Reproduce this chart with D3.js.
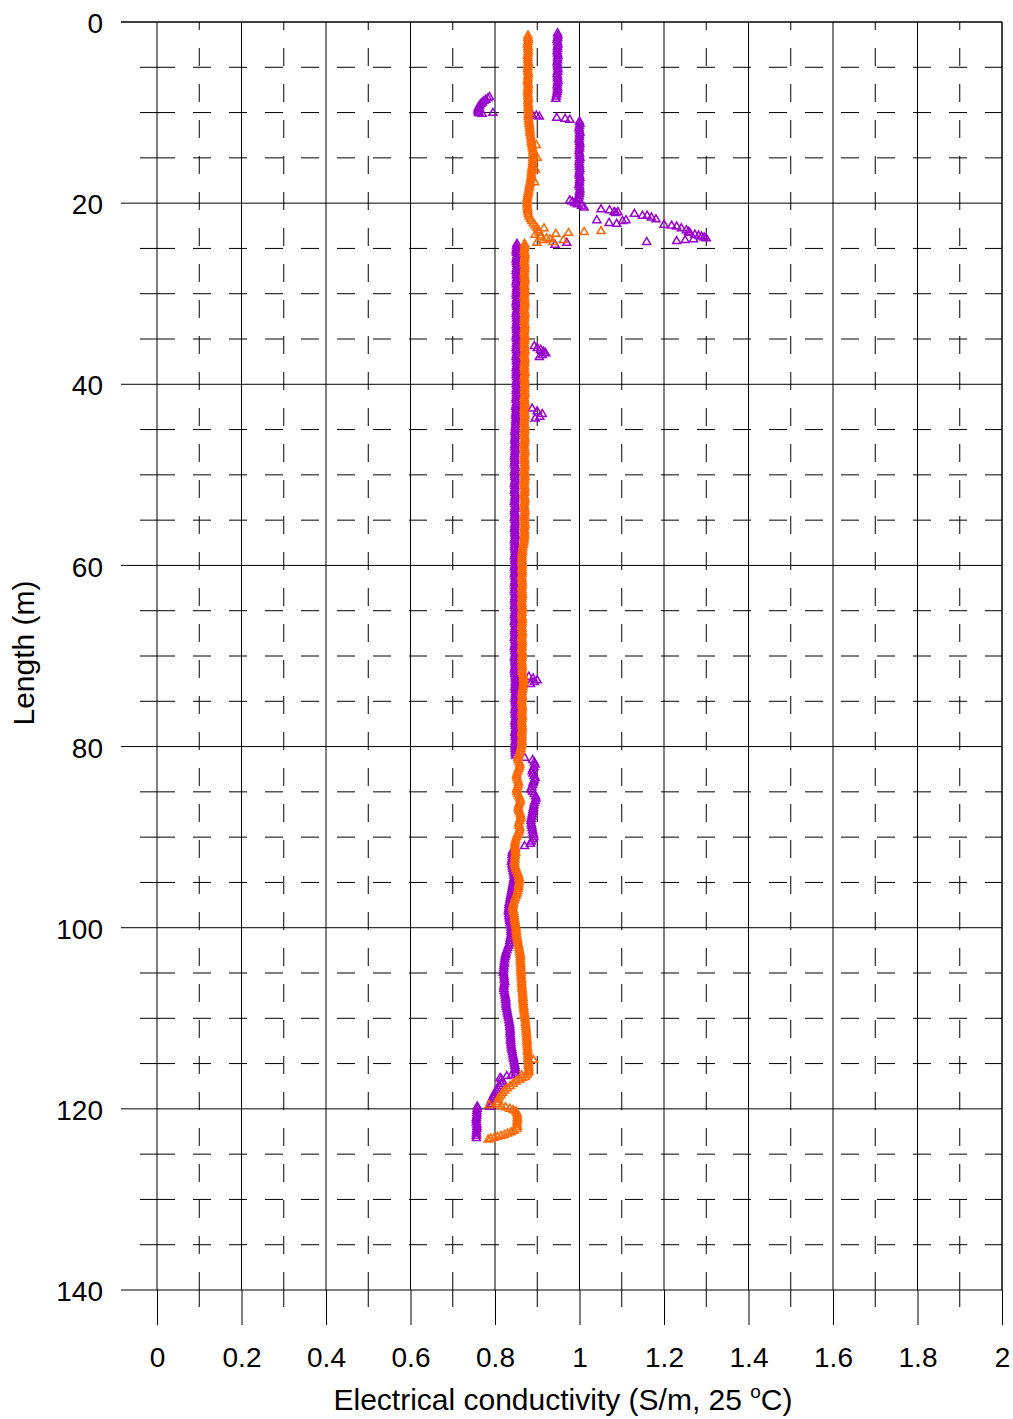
<!DOCTYPE html>
<html>
<head>
<meta charset="utf-8">
<script src="https://cdn.jsdelivr.net/npm/d3@7"></script>
<style>
  html, body { margin: 0; padding: 0; background: #fff; }
  svg { display: block; }
  text { font-family: "Liberation Sans", Arial, Helvetica, sans-serif; fill: #000; }
</style>
</head>
<body>
<svg id="chart" width="1013" height="1419"></svg>
<script>
// ---- axis ticks ----
const xMajorTicks = [0, 0.2, 0.4, 0.6, 0.8, 1, 1.2, 1.4, 1.6, 1.8, 2];
const xTickLabels = ["0", "0.2", "0.4", "0.6", "0.8", "1", "1.2", "1.4", "1.6", "1.8", "2"];
const xMinorTicks = [0.1, 0.3, 0.5, 0.7, 0.9, 1.1, 1.3, 1.5, 1.7, 1.9];
const yMajorTicks = [0, 20, 40, 60, 80, 100, 120, 140];
const yTickLabels = ["0", "20", "40", "60", "80", "100", "120", "140"];
const yMinorTicks = [5, 10, 15, 25, 30, 35, 45, 50, 55, 65, 70, 75, 85, 90, 95, 105, 110, 115, 125, 130, 135];

// ---- profile 1 (purple): continuous logging runs, [start depth (m), EC values every 0.25 m] ----
const sampleStep = 0.25;
const purpleRuns = [
  [1.25,  [0.948,0.949,0.948,0.947,0.948,0.949,0.948,0.948,0.947,0.948,0.949,0.948,0.948,0.947,0.948,0.948]],
  [5.25,  [0.949,0.948,0.947,0.948,0.948,0.949,0.948,0.947,0.948,0.948,0.947,0.946,0.945,0.944]],
  [11.0,  [1.000,1.001,1.000,0.999,1.000,1.001,1.000,1.000,0.999,1.000,1.001,1.000,1.000,0.999,1.000,1.000]],
  [15.0,  [1.001,1.000,0.999,1.000,1.000,1.001,1.000,0.999,1.000,1.001,1.000,1.000,0.999,1.000,1.001,1.000]],
  [19.0,  [1.000,0.999,0.998,0.996]],
  [24.5,  [0.852,0.851,0.851,0.850,0.851,0.852,0.851,0.850,0.851,0.851,0.852,0.851,0.850,0.851,0.851,0.852]],
  [28.5,  [0.851,0.850,0.851,0.852,0.851,0.851,0.850,0.851,0.852,0.851,0.850,0.851,0.851,0.852,0.851,0.850]],
  [32.5,  [0.851,0.851,0.852,0.851,0.850,0.851,0.851,0.852,0.851,0.850,0.851,0.852,0.851,0.851,0.850,0.851]],
  [36.5,  [0.852,0.851,0.850,0.851,0.851,0.852,0.851,0.850,0.851,0.851,0.850,0.851,0.852,0.851,0.850,0.851]],
  [40.5,  [0.851,0.850,0.851,0.851,0.850,0.850,0.851,0.850,0.849,0.850,0.850,0.849,0.849,0.850,0.849,0.849]],
  [44.5,  [0.849,0.848,0.848,0.847,0.848,0.848,0.847,0.847,0.848,0.847,0.847,0.848,0.847,0.847,0.846,0.847]],
  [48.5,  [0.847,0.846,0.847,0.848,0.847,0.846,0.847,0.847,0.848,0.847,0.846,0.847,0.847,0.846,0.847,0.848]],
  [52.5,  [0.847,0.847,0.846,0.847,0.848,0.847,0.846,0.847,0.847,0.846,0.847,0.848,0.847,0.847,0.846,0.847]],
  [56.5,  [0.847,0.848,0.847,0.846,0.847,0.847,0.846,0.847,0.848,0.847,0.846,0.847,0.847,0.848,0.847,0.846]],
  [60.5,  [0.847,0.847,0.846,0.847,0.848,0.847,0.846,0.847,0.847,0.846,0.847,0.848,0.847,0.846,0.847,0.847]],
  [64.5,  [0.846,0.847,0.848,0.847,0.846,0.847,0.847,0.846,0.847,0.848,0.847,0.846,0.847,0.847,0.846,0.847]],
  [68.5,  [0.848,0.847,0.846,0.847,0.847,0.848,0.847,0.846,0.847,0.847,0.848,0.847,0.846,0.847,0.847,0.848]],
  [72.5,  [0.848,0.849,0.848,0.848,0.847,0.848,0.849,0.848,0.848,0.847,0.848,0.848,0.849,0.848,0.847,0.848]],
  [76.5,  [0.848,0.849,0.848,0.847,0.848,0.848,0.849,0.848,0.847,0.848,0.848,0.849,0.848,0.848,0.847,0.848]],
  [80.5,  [0.848,0.848,0.849,0.870,0.889,0.893,0.895,0.892,0.890,0.888,0.890,0.893,0.895,0.893,0.890,0.889]],
  [84.5,  [0.887,0.885,0.889,0.893,0.896,0.897,0.895,0.893,0.892,0.891,0.890,0.889,0.888,0.887,0.886,0.885]],
  [88.5,  [0.886,0.887,0.888,0.889,0.890,0.891,0.892,0.889,0.886,0.884,0.870,0.848,0.842,0.841,0.840,0.841]],
  [92.5,  [0.840,0.839,0.840,0.841,0.842,0.843,0.844,0.845,0.845,0.844,0.843,0.842,0.841,0.840,0.839,0.838]],
  [96.5,  [0.837,0.836,0.835,0.834,0.833,0.833,0.832,0.832,0.833,0.833,0.834,0.835,0.836,0.837,0.838,0.838]],
  [100.5, [0.838,0.838,0.837,0.836,0.835,0.834,0.832,0.830,0.828,0.826,0.825,0.824,0.823,0.822,0.822,0.821]],
  [104.5, [0.821,0.820,0.820,0.821,0.822,0.822,0.823,0.822,0.821,0.821,0.822,0.823,0.824,0.825,0.825,0.826]],
  [108.5, [0.826,0.827,0.828,0.829,0.830,0.831,0.832,0.833,0.834,0.835,0.835,0.836,0.836,0.836,0.837,0.837]],
  [112.5, [0.837,0.838,0.838,0.839,0.840,0.841,0.842,0.843,0.844,0.845,0.846,0.847,0.848,0.848,0.849,0.849]],
  [119.75,[0.758,0.758,0.757,0.757,0.757,0.756,0.756,0.756,0.757,0.757,0.757,0.756,0.756,0.756,0.756]]
];

// ---- profile 1 (purple): isolated readings, [depth (m), EC] ----
const purpleScatter = [
  [8.3,0.787],[8.45,0.783],[8.6,0.778],[8.75,0.774],[8.9,0.770],[9.05,0.767],[9.2,0.764],[9.35,0.762],
  [9.5,0.761],[9.65,0.760],[9.8,0.760],[9.95,0.761],[10.1,0.762],[10.15,0.770],[10.05,0.795],
  [10.3,0.888],[10.35,0.898],[10.45,0.905],[10.6,0.946],[10.7,0.966],[10.8,0.977],
  [19.7,0.977],[19.85,0.983],[20.0,0.989],[20.15,0.995],[20.3,1.005],[20.5,1.011],
  [20.7,1.051],[20.8,1.071],[21.0,1.082],[21.1,1.086],[21.0,1.091],[21.9,1.041],[22.2,1.070],[22.3,1.088],
  [22.0,1.102],[21.9,1.110],[21.2,1.130],[21.4,1.149],[21.4,1.160],[21.6,1.170],[21.8,1.181],[24.3,1.159],
  [22.4,1.200],[22.5,1.218],[22.6,1.230],[22.8,1.241],[23.0,1.253],[23.2,1.258],[23.3,1.261],[23.5,1.273],
  [23.6,1.282],[23.7,1.289],[23.8,1.295],[23.9,1.300],[24.2,1.230],[24.1,1.250],[24.0,1.270],
  [24.6,0.942],[24.4,0.970],
  [35.8,0.893],[36.0,0.900],[36.2,0.908],[36.4,0.915],[36.6,0.920],[36.8,0.912],[37.0,0.905],
  [42.7,0.888],[43.0,0.900],[43.3,0.912],[43.6,0.906],[43.8,0.895],
  [72.3,0.880],[72.5,0.890],[72.7,0.900],[72.9,0.893],[73.1,0.884],
  [116.3,0.839],[116.4,0.828],[116.6,0.812],[116.75,0.815],[117.0,0.818],[117.25,0.815],[117.5,0.810],
  [117.75,0.806],[118.0,0.803],[118.25,0.800],[118.5,0.797],[118.75,0.795],[119.0,0.792],[119.25,0.790],
  [119.5,0.788],[119.8,0.788]
];

// ---- profile 2 (orange): continuous logging runs ----
const orangeRuns = [
  [1.5,   [0.878,0.878,0.879,0.878,0.877,0.878,0.878,0.879,0.878,0.877,0.878,0.878,0.879,0.878,0.878,0.877]],
  [5.5,   [0.878,0.879,0.878,0.878,0.877,0.878,0.879,0.878,0.878,0.877,0.878,0.878,0.879,0.878,0.878,0.879]],
  [9.5,   [0.879,0.879,0.880,0.879,0.879,0.880,0.880,0.881,0.882,0.882,0.883,0.883,0.884,0.885,0.886,0.886]],
  [13.5,  [0.887,0.888,0.889,0.890,0.890,0.891,0.890,0.890,0.889,0.889,0.888,0.887,0.887,0.886,0.886,0.885]],
  [17.5,  [0.884,0.883,0.882,0.881,0.880,0.879,0.878,0.877,0.876,0.876,0.876,0.876,0.877,0.877,0.878,0.879]],
  [21.5,  [0.881,0.884,0.887,0.891,0.895,0.899,0.902,0.905]],
  [24.5,  [0.870,0.871,0.870,0.869,0.870,0.871,0.870,0.870,0.869,0.870,0.871,0.870,0.870,0.869,0.870,0.870]],
  [28.5,  [0.871,0.870,0.869,0.870,0.870,0.871,0.870,0.869,0.870,0.870,0.871,0.870,0.870,0.869,0.870,0.871]],
  [32.5,  [0.870,0.870,0.869,0.870,0.871,0.870,0.870,0.869,0.870,0.871,0.870,0.870,0.869,0.870,0.870,0.871]],
  [36.5,  [0.870,0.869,0.870,0.871,0.870,0.870,0.869,0.870,0.870,0.871,0.870,0.869,0.870,0.870,0.871,0.870]],
  [40.5,  [0.870,0.870,0.871,0.870,0.869,0.870,0.870,0.871,0.870,0.869,0.870,0.870,0.871,0.870,0.870,0.869]],
  [44.5,  [0.870,0.871,0.870,0.870,0.869,0.870,0.871,0.870,0.870,0.869,0.870,0.870,0.871,0.870,0.869,0.870]],
  [48.5,  [0.870,0.870,0.871,0.870,0.869,0.870,0.870,0.871,0.870,0.870,0.869,0.870,0.871,0.870,0.870,0.869]],
  [52.5,  [0.870,0.871,0.870,0.869,0.870,0.870,0.871,0.870,0.870,0.869,0.870,0.870,0.871,0.870,0.869,0.870]],
  [56.5,  [0.870,0.870,0.869,0.869,0.868,0.867,0.866,0.865,0.865,0.864,0.864,0.864,0.864,0.864,0.865,0.864]],
  [60.5,  [0.864,0.865,0.864,0.863,0.864,0.864,0.865,0.864,0.863,0.864,0.864,0.865,0.864,0.864,0.863,0.864]],
  [64.5,  [0.864,0.865,0.864,0.864,0.863,0.864,0.865,0.864,0.864,0.863,0.864,0.864,0.865,0.864,0.863,0.864]],
  [68.5,  [0.865,0.864,0.864,0.863,0.864,0.865,0.864,0.864,0.863,0.864,0.864,0.865,0.864,0.864,0.866,0.867]],
  [72.5,  [0.867,0.868,0.868,0.867,0.866,0.865,0.864,0.864,0.865,0.864,0.863,0.864,0.864,0.865,0.864,0.864]],
  [76.5,  [0.864,0.865,0.864,0.863,0.864,0.864,0.865,0.864,0.863,0.864,0.864,0.863,0.864,0.863,0.862,0.861]],
  [80.5,  [0.860,0.858,0.856,0.854,0.855,0.857,0.859,0.858,0.856,0.854,0.852,0.851,0.852,0.854,0.856,0.855]],
  [84.5,  [0.853,0.851,0.852,0.854,0.857,0.859,0.860,0.858,0.856,0.855,0.856,0.858,0.860,0.861,0.860,0.858]],
  [88.5,  [0.856,0.857,0.859,0.858,0.856,0.853,0.851,0.849,0.848,0.847,0.847,0.848,0.848,0.849,0.848,0.847]],
  [92.5,  [0.847,0.846,0.847,0.848,0.850,0.852,0.854,0.856,0.857,0.858,0.857,0.856,0.856,0.855,0.854,0.852]],
  [96.5,  [0.850,0.848,0.846,0.844,0.843,0.842,0.843,0.844,0.845,0.846,0.846,0.847,0.848,0.849,0.850,0.850]],
  [100.5, [0.851,0.851,0.852,0.853,0.854,0.855,0.856,0.857,0.858,0.859,0.860,0.860,0.860,0.860,0.861,0.861]],
  [104.5, [0.861,0.861,0.862,0.862,0.862,0.863,0.863,0.863,0.864,0.864,0.865,0.865,0.866,0.866,0.866,0.867]],
  [108.5, [0.867,0.868,0.868,0.869,0.870,0.870,0.871,0.872,0.872,0.873,0.873,0.874,0.874,0.875,0.875,0.875]],
  [112.5, [0.876,0.876,0.876,0.877,0.877,0.877,0.878,0.878,0.878,0.879,0.879,0.879,0.880,0.880,0.879,0.876]],
  [120.5, [0.852,0.853,0.853,0.853,0.852,0.852,0.853,0.852]]
];

// ---- profile 2 (orange): isolated readings ----
const orangeScatter = [
  [13.6,0.898],[15.0,0.900],[16.3,0.896],[17.7,0.894],
  [22.8,0.916],[23.5,0.895],[24.4,0.899],[23.9,0.922],[23.4,0.944],[24.1,0.962],[23.3,0.974],
  [23.2,1.011],[23.1,1.051],[24.3,0.937],[24.1,0.914],[23.7,0.908],[24.0,0.930],
  [114.6,0.891],[115.9,0.879],[116.3,0.863],
  [116.5,0.872],[116.6,0.865],[116.8,0.858],[117.0,0.850],[117.25,0.843],[117.5,0.836],[117.75,0.829],
  [118.0,0.823],[118.25,0.818],[118.5,0.814],[118.75,0.810],[119.0,0.807],[119.25,0.805],[119.5,0.806],
  [119.6,0.786],[119.7,0.815],[119.85,0.825],[120.0,0.835],[120.15,0.843],[120.3,0.850],
  [122.45,0.845],[122.6,0.838],[122.75,0.830],[122.9,0.822],[123.0,0.814],[123.1,0.806],[123.2,0.798],
  [123.3,0.790],[123.4,0.784]
];

const purple = "#9900cc";
const orange = "#ff6600";

// ---- scales ----
const x = d3.scaleLinear().domain([0, 2]).range([157, 1002]);
const y = d3.scaleLinear().domain([0, 140]).range([22, 1290]);
const majorTick = 36, minorTick = 17;
const plotLeft = x(0) - majorTick;

const svg = d3.select("#chart");

// ---- grid ----
const grid = svg.append("g").attr("stroke", "#000").attr("stroke-width", 1).attr("fill", "none");

// dashed minor depth lines with short ticks left of the zero line
yMinorTicks.forEach(v => {
  grid.append("line").attr("x1", x(0)).attr("x2", x(2)).attr("y1", y(v)).attr("y2", y(v))
    .attr("stroke-dasharray", "18,18");
  grid.append("line").attr("x1", x(0) - minorTick).attr("x2", x(0)).attr("y1", y(v)).attr("y2", y(v));
});
// dashed minor conductivity lines, dashed upward from the bottom axis
xMinorTicks.forEach(v => {
  grid.append("line").attr("x1", x(v)).attr("x2", x(v)).attr("y1", y(140)).attr("y2", y(0))
    .attr("stroke-dasharray", "18,18");
  grid.append("line").attr("x1", x(v)).attr("x2", x(v)).attr("y1", y(140)).attr("y2", y(140) + minorTick);
});
// solid major lines
yMajorTicks.forEach(v => {
  grid.append("line").attr("x1", plotLeft).attr("x2", x(2)).attr("y1", y(v)).attr("y2", y(v));
});
xMajorTicks.forEach(v => {
  grid.append("line").attr("x1", x(v)).attr("x2", x(v)).attr("y1", y(0)).attr("y2", y(140));
});

// ---- axes (major ticks + labels) ----
const xAxis = d3.axisBottom(x)
  .tickValues(xMajorTicks)
  .tickFormat((d, i) => xTickLabels[i])
  .tickSize(35).tickSizeOuter(0).tickPadding(22);
const gx = svg.append("g").attr("transform", `translate(0,${y(140)})`).call(xAxis);
gx.select(".domain").remove();
gx.selectAll(".tick line").attr("stroke", "#000");
gx.selectAll(".tick text").attr("font-size", 28).attr("font-family", null).attr("fill", "#000");

const yAxis = d3.axisLeft(y)
  .tickValues(yMajorTicks)
  .tickFormat((d, i) => yTickLabels[i])
  .tickSize(0).tickSizeOuter(0).tickPadding(majorTick + 18);
const gy = svg.append("g").attr("transform", `translate(${x(0)},0)`).call(yAxis);
gy.select(".domain").remove();
gy.selectAll(".tick text").attr("font-size", 28).attr("font-family", null).attr("fill", "#000").attr("dy", "0.38em");

// ---- frame (top and right) ----
svg.append("path")
  .attr("d", `M${plotLeft},${y(0)}H${x(2)}V${y(140)}`)
  .attr("fill", "none").attr("stroke", "#000").attr("stroke-width", 1);

// ---- data ----
function expandRuns(runs) {
  const pts = [];
  runs.forEach(([start, vals]) => vals.forEach((ec, i) => pts.push({ depth: start + i * sampleStep, ec })));
  return pts;
}
const purplePts = expandRuns(purpleRuns).concat(purpleScatter.map(([depth, ec]) => ({ depth, ec })));
const orangePts = expandRuns(orangeRuns).concat(orangeScatter.map(([depth, ec]) => ({ depth, ec })));

const tri = d3.symbol().type(d3.symbolTriangle).size(28);
function drawSeries(pts, color, cls) {
  svg.append("g").attr("class", cls)
    .selectAll("path").data(pts).join("path")
    .attr("transform", d => `translate(${x(d.ec)},${y(d.depth)})`)
    .attr("d", tri)
    .attr("fill", "none")
    .attr("stroke", color)
    .attr("stroke-width", 1.5);
}
drawSeries(purplePts, purple, "series-purple");
drawSeries(orangePts, orange, "series-orange");

// ---- axis titles ----
const xTitle = svg.append("text")
  .attr("x", 563).attr("y", 1410)
  .attr("text-anchor", "middle")
  .attr("font-size", 30);
xTitle.append("tspan").text("Electrical conductivity (S/m, 25 ");
xTitle.append("tspan").attr("font-size", 19).attr("dy", -12).text("o");
xTitle.append("tspan").attr("dy", 12).text("C)");

svg.append("text")
  .attr("transform", "translate(34,653) rotate(-90)")
  .attr("text-anchor", "middle")
  .attr("font-size", 30)
  .text("Length (m)");
</script>
</body>
</html>
